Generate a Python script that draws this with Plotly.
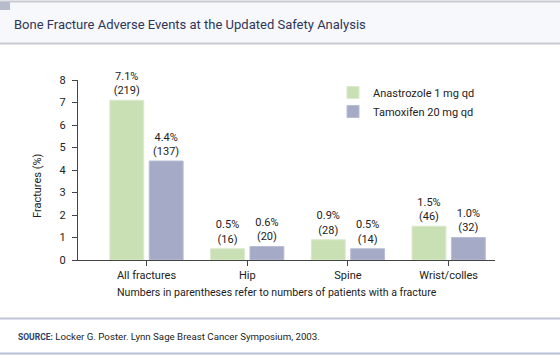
import plotly.graph_objects as go

categories = ["All fractures", "Hip", "Spine", "Wrist/colles"]
anastrozole = [7.1, 0.5, 0.9, 1.5]
anastrozole_n = [219, 16, 28, 46]
tamoxifen = [4.4, 0.6, 0.5, 1.0]
tamoxifen_n = [137, 20, 14, 32]
y_ticks = [0, 1, 2, 3, 4, 5, 6, 7, 8]

W, H = 560, 359
L, R, T, B = 78, 65, 80, 99
PW, PH = W - L - R, H - T - B

def px(x):
    return (x - L) / PW

def py(y):
    return (H - B - y) / PH

FONT = "Roboto"
DARK = "#222222"

def labels(vals, ns):
    return [f"{v:.1f}%<br>({n})" for v, n in zip(vals, ns)]

fig = go.Figure()
fig.add_trace(go.Bar(
    name="Anastrozole 1 mg qd", x=categories, y=anastrozole,
    marker=dict(color="#c9dfb4", line=dict(color="#dbe9cd", width=1)),
    text=labels(anastrozole, anastrozole_n), textposition="outside",
    textfont=dict(size=11, color=DARK, family=FONT), cliponaxis=False,
))
fig.add_trace(go.Bar(
    name="Tamoxifen 20 mg qd", x=categories, y=tamoxifen,
    marker=dict(color="#a5aac7", line=dict(color="#b9bdd4", width=1)),
    text=labels(tamoxifen, tamoxifen_n), textposition="outside",
    textfont=dict(size=11, color=DARK, family=FONT), cliponaxis=False,
))

shapes = [
    dict(type="rect", xref="paper", yref="paper", x0=px(0), x1=px(W), y0=py(43), y1=py(2),
         fillcolor="#f7f8fc", line=dict(width=0), layer="below"),
    dict(type="line", xref="paper", yref="paper", x0=px(0), x1=px(W), y0=py(1.5), y1=py(1.5),
         line=dict(color="#c8cad2", width=2)),
    dict(type="line", xref="paper", yref="paper", x0=px(0), x1=px(W), y0=py(43.5), y1=py(43.5),
         line=dict(color="#c8cad2", width=2)),
    dict(type="rect", xref="paper", yref="paper", x0=px(0), x1=px(10), y0=py(10), y1=py(2),
         fillcolor="#b7bccc", line=dict(width=0)),
    dict(type="line", xref="paper", yref="paper", x0=px(0), x1=px(W), y0=py(318.5), y1=py(318.5),
         line=dict(color="#c0c6d8", width=2)),
    dict(type="line", xref="paper", yref="paper", x0=px(0), x1=px(W), y0=py(353.5), y1=py(353.5),
         line=dict(color="#b8c0d8", width=2)),
]

annotations = [
    dict(text="Bone Fracture Adverse Events at the Updated Safety Analysis",
         xref="paper", yref="paper", x=px(12), y=py(24), xanchor="left", yanchor="middle",
         showarrow=False, font=dict(size=13, color="#2e3658", family=FONT)),
    dict(text="Fractures (%)", textangle=-90,
         xref="paper", yref="paper", x=px(37), y=py(186), xanchor="center", yanchor="middle",
         showarrow=False, font=dict(size=11, color=DARK, family=FONT)),
    dict(text="Numbers in parentheses refer to numbers of patients with a fracture",
         xref="paper", yref="paper", x=px(277), y=py(292), xanchor="center", yanchor="middle",
         showarrow=False, font=dict(size=10.6, color=DARK, family=FONT)),
    dict(text="<b><span style='font-size:8.5px;color:#2c3e6b'>SOURCE:</span></b> Locker G. Poster. Lynn Sage Breast Cancer Symposium, 2003.",
         xref="paper", yref="paper", x=px(16), y=py(336), xanchor="left", yanchor="middle",
         showarrow=False, font=dict(size=9.7, color=DARK, family=FONT)),
]

fig.update_layout(
    width=W, height=H,
    margin=dict(l=L, r=R, t=T, b=B, pad=0, autoexpand=False),
    paper_bgcolor="white", plot_bgcolor="white",
    barmode="group", bargap=0.218, bargroupgap=0.14,
    font=dict(family=FONT, size=11, color=DARK),
    showlegend=True,
    legend=dict(x=px(333), y=py(78), xanchor="left", yanchor="top",
                bgcolor="rgba(0,0,0,0)", font=dict(size=11, color=DARK, family=FONT),
                itemclick=False, itemwidth=30),
    xaxis=dict(range=[-0.68, 3.46], showline=True, linecolor="#444444", linewidth=1,
               ticks="outside", ticklen=5, tickcolor="#444444", showgrid=False,
               tickfont=dict(size=11, color=DARK), fixedrange=True, automargin=False),
    yaxis=dict(range=[0, 8], tickvals=y_ticks, showline=True, linecolor="#444444", linewidth=1,
               ticks="outside", ticklen=5, tickcolor="#444444", showgrid=False, zeroline=False,
               tickfont=dict(size=11, color=DARK), fixedrange=True, automargin=False,
               ticklabelstandoff=4),
    shapes=shapes, annotations=annotations,
)

fig.write_html("out.html", config={"displayModeBar": False},
               post_script="document.body.style.margin='0';")
